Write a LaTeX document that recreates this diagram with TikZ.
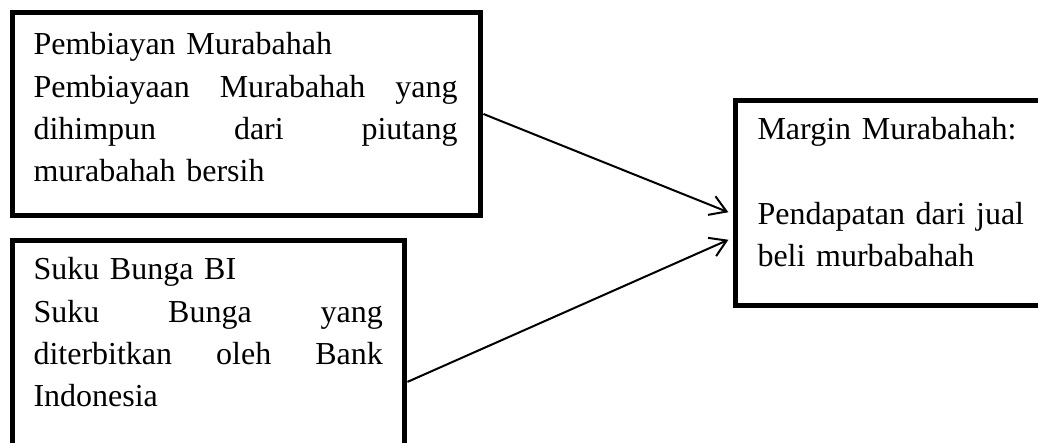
\documentclass[tikz,border=0pt]{standalone}
\usepackage{fontspec}
\setmainfont{Liberation Serif}
\usetikzlibrary{arrows.meta}
\newcommand\fillline[2]{\leavevmode\hbox to #1{#2}}
\begin{document}
\begin{tikzpicture}[x=0.375pt,y=-0.375pt,
  box/.style={draw, line width=2.2pt, rectangle, inner sep=0pt},
  txt/.style={inner sep=0pt, anchor=base west, align=left, font=\fontsize{12}{15.87}\selectfont},
  link/.style={line width=0.75pt, -{Straight Barb[length=6pt,width=7.5pt]}, shorten >=1.7pt}
]
\useasboundingbox (0,0) rectangle (1038,443);
\clip (0,0) rectangle (1038,443);
% boxes
\node[box, minimum width=175.5pt, minimum height=76.125pt] (A) at (246.5,114) {};
\node[box, minimum width=147pt, minimum height=86.06pt] (B) at (208.5,355.25) {};
\node[box, minimum width=125.44pt, minimum height=76.875pt] (C) at (902.75,203) {};
% texts
\node[txt, text width=159pt] (At) at (33,55) {Pembiayan Murabahah\\
\fillline{159pt}{Pembiayaan\hfill Murabahah\hfill yang}\\
\fillline{159pt}{dihimpun\hfill dari\hfill piutang}\\
murabahah bersih};
\node[txt, text width=131pt] (Bt) at (33,280) {Suku Bunga BI\\
\fillline{131pt}{Suku\hfill Bunga\hfill yang}\\
\fillline{131pt}{diterbitkan\hfill oleh\hfill Bank}\\
Indonesia};
\node[txt, text width=125pt] (Ct) at (757,140) {Margin Murabahah:\\
\mbox{}\\
Pendapatan dari jual\\
beli murbabahah};
% connectors
\draw[link] (A.east) -- ([yshift=-4.1pt]C.west);
\draw[link] ([yshift=-10pt]B.east) -- ([yshift=-13.1pt]C.west);
\end{tikzpicture}
\end{document}
